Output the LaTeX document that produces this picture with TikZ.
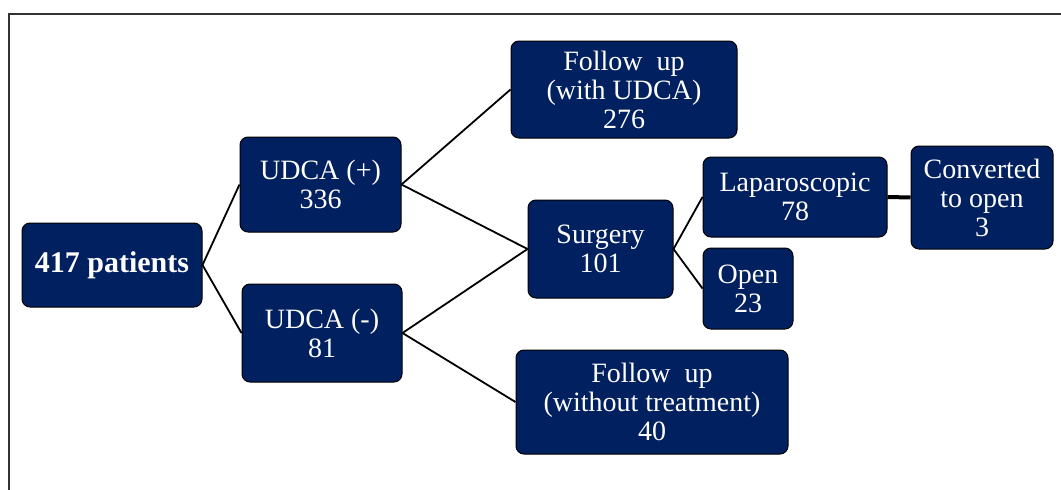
\documentclass[tikz,border=0pt]{standalone}
\usepackage{fontspec}
\setmainfont{Liberation Serif}
\definecolor{navy}{HTML}{002060}
\definecolor{framegray}{HTML}{333333}
\tikzset{
  box/.style={draw=black, line width=1pt, fill=navy, text=white, rounded corners=8pt,
    inner sep=0pt, align=center, font=\fontsize{28}{29}\selectfont},
  link/.style={draw=black, line width=1.8pt},
  thicklink/.style={draw=black, line width=4pt}
}
\begin{document}
\begin{tikzpicture}[x=1pt,y=-1pt]
\useasboundingbox (0,0) rectangle (1061,490);
\draw[framegray, line width=2pt] (8.5,490) -- (8.5,13.5) -- (1061,13.5);
\node[box, minimum width=180pt, minimum height=84pt, font=\fontsize{30}{31}\selectfont\bfseries] (p417) at (112,265) {417 patients};
\node[box, minimum width=161pt, minimum height=95pt] (udcap) at (320.5,184.5) {UDCA (+)\\336};
\node[box, minimum width=160pt, minimum height=98pt] (udcam) at (322,333) {UDCA (-)\\81};
\node[box, minimum width=226pt, minimum height=97pt] (fu1) at (624,89.5) {Follow~~up\\(with UDCA)\\276};
\node[box, minimum width=145pt, minimum height=98pt] (surg) at (600.5,249) {Surgery\\101};
\node[box, minimum width=272pt, minimum height=104pt] (fu2) at (652,402) {Follow~~up\\(without treatment)\\40};
\node[box, minimum width=184pt, minimum height=80pt] (lap) at (795,197) {Laparoscopic\\78};
\node[box, minimum width=90pt, minimum height=81pt] (open) at (748,288.5) {Open\\23};
\node[box, minimum width=142pt, minimum height=103pt] (conv) at (982,197.5) {Converted\\to open\\3};
\draw[link] (p417.east) -- (udcap.west);
\draw[link] (p417.east) -- (udcam.west);
\draw[link] (udcap.east) -- (fu1.west);
\draw[link] (udcap.east) -- (surg.west);
\draw[link] (udcam.east) -- (surg.west);
\draw[link] (udcam.east) -- (fu2.west);
\draw[link] (surg.east) -- (lap.west);
\draw[link] (surg.east) -- (open.west);
\draw[thicklink] (lap.east) -- (conv.west);
\end{tikzpicture}
\end{document}
